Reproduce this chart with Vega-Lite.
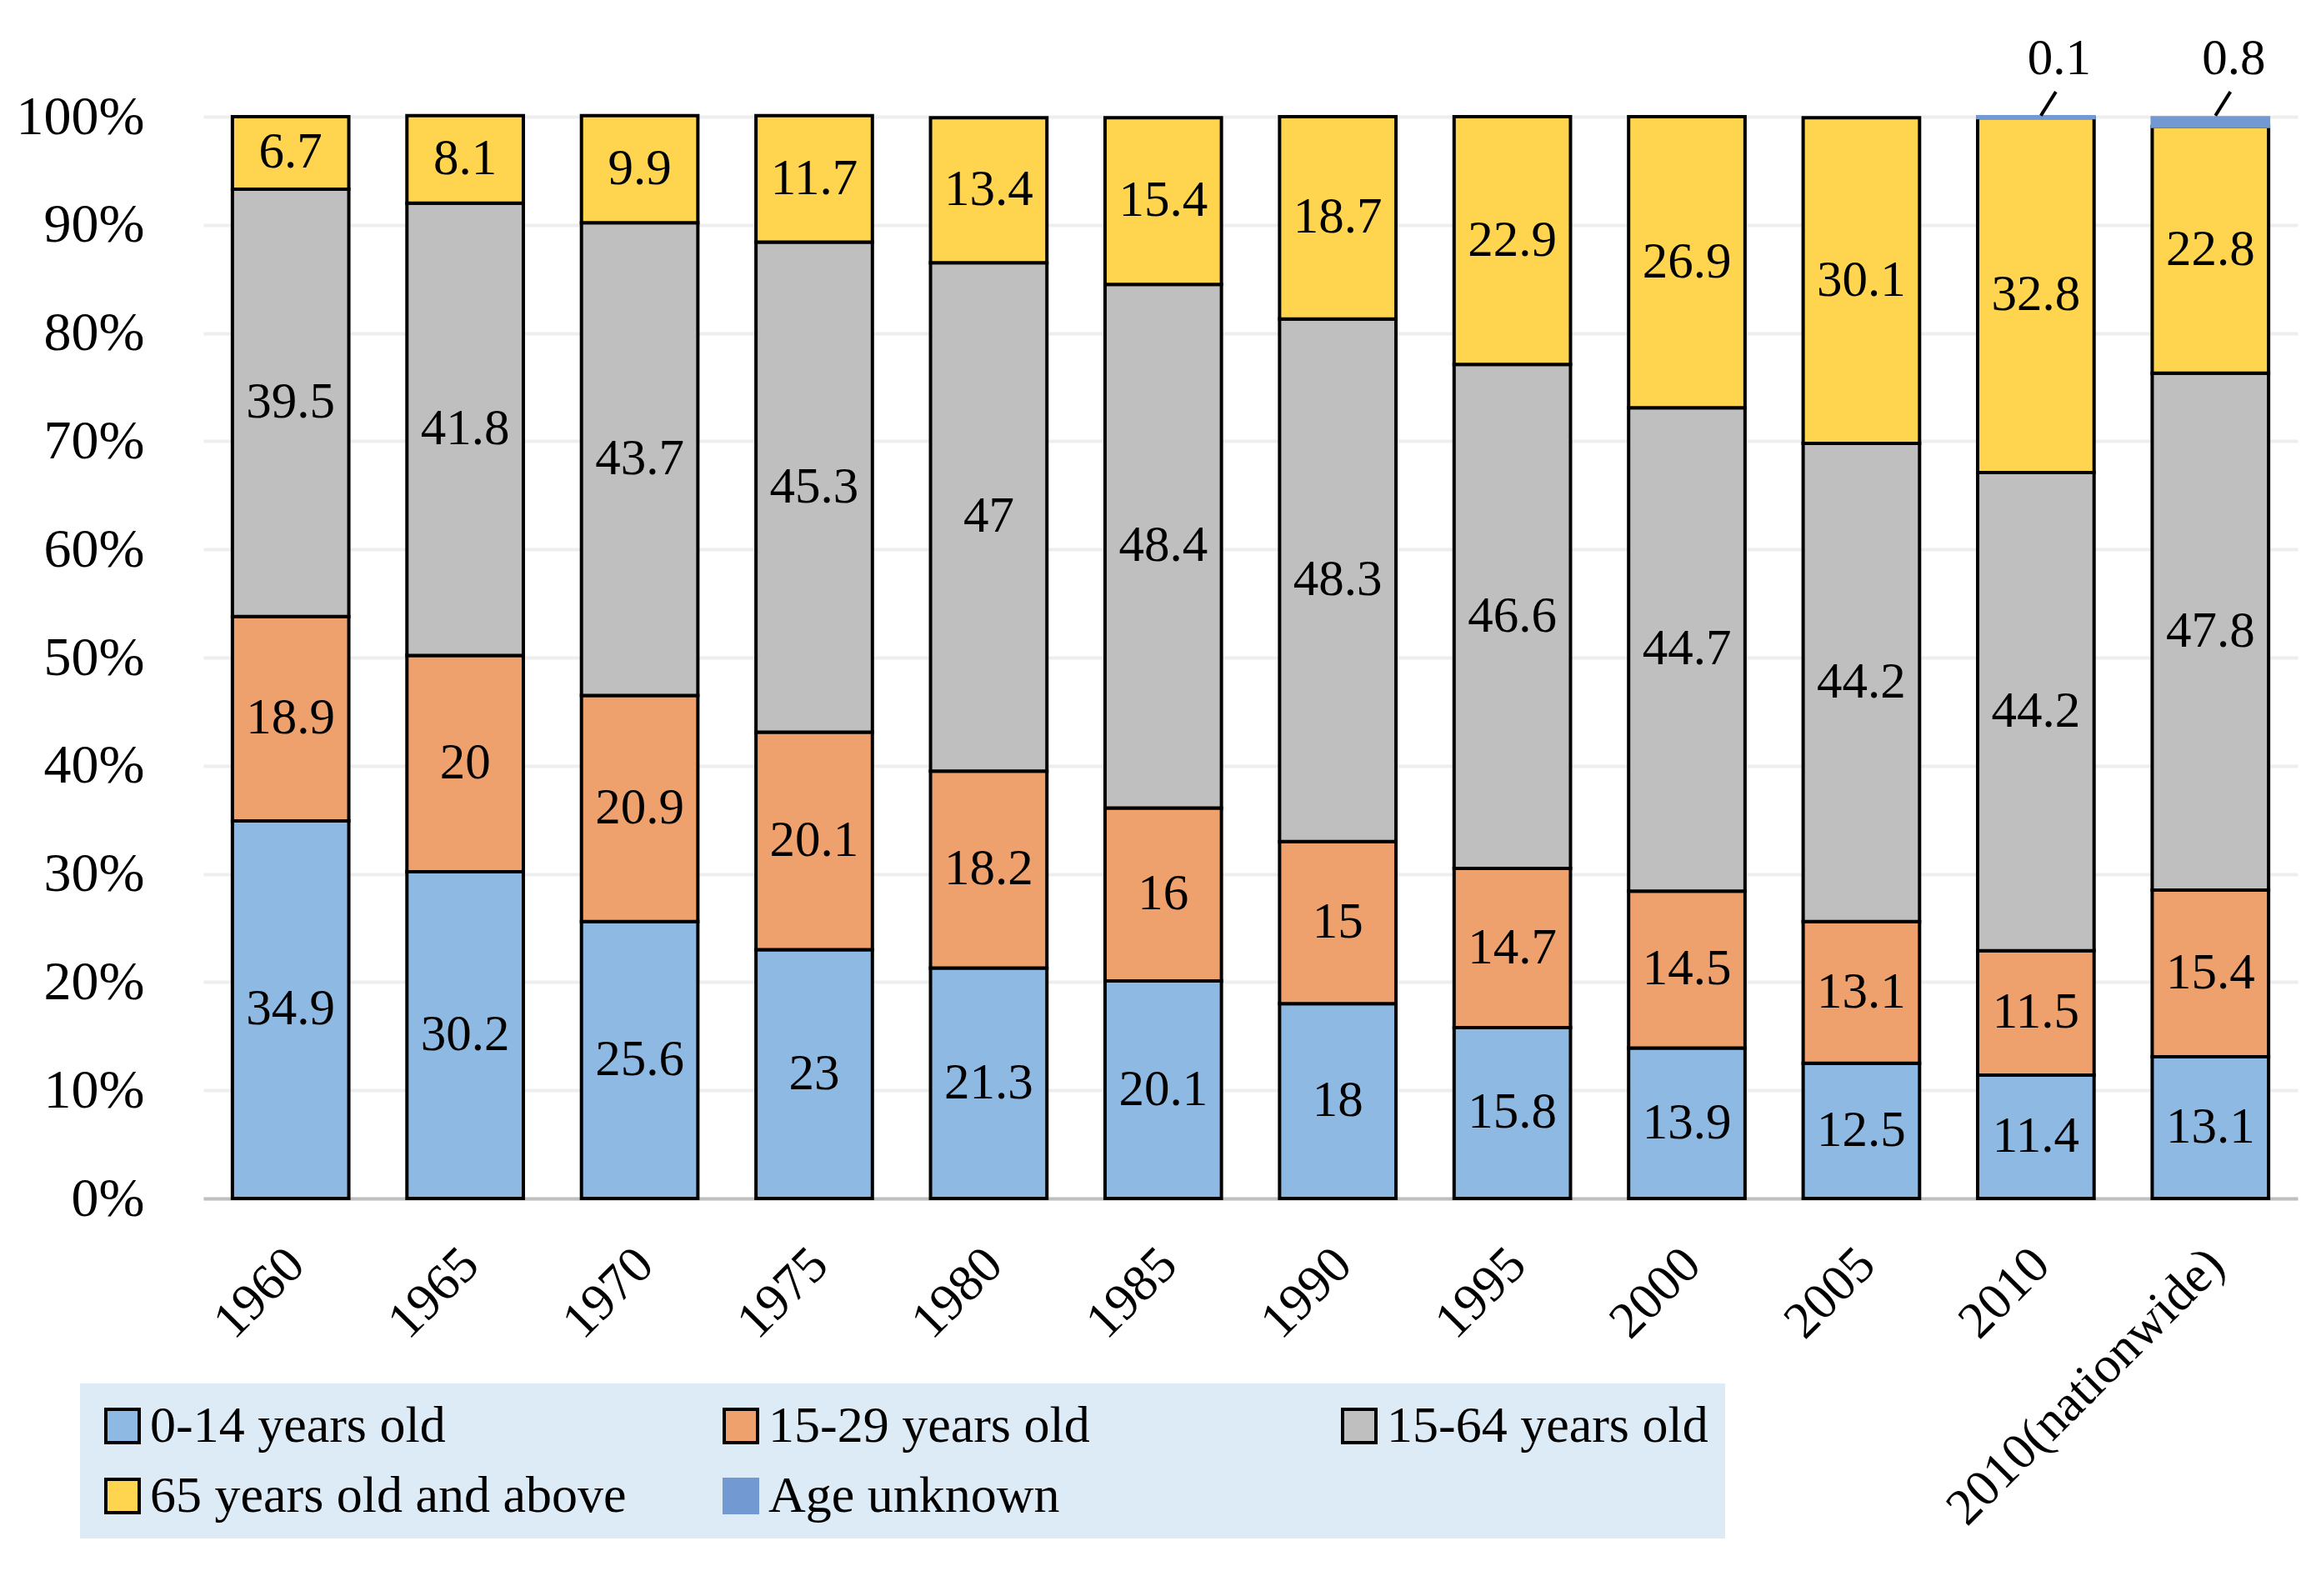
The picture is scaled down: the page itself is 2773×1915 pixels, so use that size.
{
  "$schema": "https://vega.github.io/schema/vega-lite/v6.json",
  "width": 2513,
  "height": 1298,
  "autosize": "none",
  "padding": {"left": 244, "top": 140, "right": 16, "bottom": 477},
  "background": "white",
  "config": {"font": "Liberation Serif", "view": {"stroke": null}},
  "data": {"values": [
    {"year": "1960", "group": "0-14 years old", "ord": 1, "value": 34.9},
    {"year": "1960", "group": "15-29 years old", "ord": 2, "value": 18.9},
    {"year": "1960", "group": "15-64 years old", "ord": 3, "value": 39.5},
    {"year": "1960", "group": "65 years old and above", "ord": 4, "value": 6.7},
    {"year": "1965", "group": "0-14 years old", "ord": 1, "value": 30.2},
    {"year": "1965", "group": "15-29 years old", "ord": 2, "value": 20},
    {"year": "1965", "group": "15-64 years old", "ord": 3, "value": 41.8},
    {"year": "1965", "group": "65 years old and above", "ord": 4, "value": 8.1},
    {"year": "1970", "group": "0-14 years old", "ord": 1, "value": 25.6},
    {"year": "1970", "group": "15-29 years old", "ord": 2, "value": 20.9},
    {"year": "1970", "group": "15-64 years old", "ord": 3, "value": 43.7},
    {"year": "1970", "group": "65 years old and above", "ord": 4, "value": 9.9},
    {"year": "1975", "group": "0-14 years old", "ord": 1, "value": 23},
    {"year": "1975", "group": "15-29 years old", "ord": 2, "value": 20.1},
    {"year": "1975", "group": "15-64 years old", "ord": 3, "value": 45.3},
    {"year": "1975", "group": "65 years old and above", "ord": 4, "value": 11.7},
    {"year": "1980", "group": "0-14 years old", "ord": 1, "value": 21.3},
    {"year": "1980", "group": "15-29 years old", "ord": 2, "value": 18.2},
    {"year": "1980", "group": "15-64 years old", "ord": 3, "value": 47},
    {"year": "1980", "group": "65 years old and above", "ord": 4, "value": 13.4},
    {"year": "1985", "group": "0-14 years old", "ord": 1, "value": 20.1},
    {"year": "1985", "group": "15-29 years old", "ord": 2, "value": 16},
    {"year": "1985", "group": "15-64 years old", "ord": 3, "value": 48.4},
    {"year": "1985", "group": "65 years old and above", "ord": 4, "value": 15.4},
    {"year": "1990", "group": "0-14 years old", "ord": 1, "value": 18},
    {"year": "1990", "group": "15-29 years old", "ord": 2, "value": 15},
    {"year": "1990", "group": "15-64 years old", "ord": 3, "value": 48.3},
    {"year": "1990", "group": "65 years old and above", "ord": 4, "value": 18.7},
    {"year": "1995", "group": "0-14 years old", "ord": 1, "value": 15.8},
    {"year": "1995", "group": "15-29 years old", "ord": 2, "value": 14.7},
    {"year": "1995", "group": "15-64 years old", "ord": 3, "value": 46.6},
    {"year": "1995", "group": "65 years old and above", "ord": 4, "value": 22.9},
    {"year": "2000", "group": "0-14 years old", "ord": 1, "value": 13.9},
    {"year": "2000", "group": "15-29 years old", "ord": 2, "value": 14.5},
    {"year": "2000", "group": "15-64 years old", "ord": 3, "value": 44.7},
    {"year": "2000", "group": "65 years old and above", "ord": 4, "value": 26.9},
    {"year": "2005", "group": "0-14 years old", "ord": 1, "value": 12.5},
    {"year": "2005", "group": "15-29 years old", "ord": 2, "value": 13.1},
    {"year": "2005", "group": "15-64 years old", "ord": 3, "value": 44.2},
    {"year": "2005", "group": "65 years old and above", "ord": 4, "value": 30.1},
    {"year": "2010", "group": "0-14 years old", "ord": 1, "value": 11.4},
    {"year": "2010", "group": "15-29 years old", "ord": 2, "value": 11.5},
    {"year": "2010", "group": "15-64 years old", "ord": 3, "value": 44.2},
    {"year": "2010", "group": "65 years old and above", "ord": 4, "value": 32.8},
    {"year": "2010", "group": "Age unknown", "ord": 5, "value": 0.1},
    {"year": "2010(nationwide)", "group": "0-14 years old", "ord": 1, "value": 13.1},
    {"year": "2010(nationwide)", "group": "15-29 years old", "ord": 2, "value": 15.4},
    {"year": "2010(nationwide)", "group": "15-64 years old", "ord": 3, "value": 47.8},
    {"year": "2010(nationwide)", "group": "65 years old and above", "ord": 4, "value": 22.8},
    {"year": "2010(nationwide)", "group": "Age unknown", "ord": 5, "value": 0.8}
  ]},
  "encoding": {
    "x": {
      "field": "year", "type": "nominal", "sort": null,
      "scale": {"paddingInner": 0.333, "paddingOuter": 0.1665},
      "axis": {
        "title": null, "labelAngle": -45, "labelFontSize": 62, "labelFont": "Liberation Serif",
        "labelColor": "black", "ticks": false, "domainColor": "#BFBFBF", "domainWidth": 4,
        "labelPadding": 48, "labelOffset": -15, "labelLimit": 2000, "grid": false
      }
    }
  },
  "layer": [
    {
      "mark": {"type": "bar", "strokeWidth": 4, "opacity": 1},
      "encoding": {
        "y": {
          "field": "value", "type": "quantitative", "stack": "zero",
          "scale": {"domain": [0, 100], "nice": false},
          "axis": {
            "title": null, "values": [0, 10, 20, 30, 40, 50, 60, 70, 80, 90, 100],
            "labelExpr": "datum.value + '%'", "labelFontSize": 66, "labelFont": "Liberation Serif",
            "labelColor": "black", "ticks": false, "domain": false,
            "gridColor": "#EEEEEE", "gridWidth": 4, "labelPadding": 71
          }
        },
        "color": {
          "field": "group", "type": "nominal",
          "scale": {
            "domain": ["0-14 years old", "15-29 years old", "15-64 years old", "65 years old and above", "Age unknown"],
            "range": ["#8DB9E2", "#EEA16D", "#BFBFBF", "#FFD44F", "#7399D3"]
          },
          "legend": {
            "orient": "none", "legendX": -148, "legendY": 1520, "direction": "horizontal",
            "columns": 3, "title": null, "fillColor": "#DDEBF7", "padding": 20,
            "symbolType": "square", "symbolSize": 1600, "symbolStrokeWidth": 4,
            "labelFontSize": 62, "labelColor": "black", "labelFont": "Liberation Serif",
            "columnPadding": 106, "rowPadding": 22, "gridAlign": "all", "labelOffset": 2,
            "labelLimit": 1000, "symbolOpacity": 1
          }
        },
        "stroke": {
          "field": "group", "type": "nominal",
          "scale": {
            "domain": ["0-14 years old", "15-29 years old", "15-64 years old", "65 years old and above", "Age unknown"],
            "range": ["black", "black", "black", "black", "#7399D3"]
          }
        },
        "order": {"field": "ord", "type": "quantitative"}
      }
    },
    {
      "transform": [{"filter": "datum.group != 'Age unknown'"}],
      "mark": {"type": "text", "fontSize": 61, "font": "Liberation Serif", "color": "black", "baseline": "middle"},
      "encoding": {
        "y": {"field": "value", "type": "quantitative", "stack": "zero", "bandPosition": 0.5},
        "text": {"field": "value", "type": "nominal"},
        "order": {"field": "ord", "type": "quantitative"}
      }
    },
    {
      "transform": [{"filter": "datum.group == 'Age unknown'"}],
      "mark": {"type": "rule", "stroke": "black", "strokeWidth": 4, "xOffset": 6, "x2Offset": 24},
      "encoding": {
        "x2": {"field": "year"},
        "y": {"datum": 100.1},
        "y2": {"datum": 102.3}
      }
    },
    {
      "transform": [{"filter": "datum.group == 'Age unknown'"}],
      "mark": {"type": "text", "fontSize": 61, "font": "Liberation Serif", "color": "black", "baseline": "middle", "dx": 28},
      "encoding": {
        "y": {"datum": 105.3},
        "text": {"field": "value", "type": "nominal"}
      }
    }
  ]
}
